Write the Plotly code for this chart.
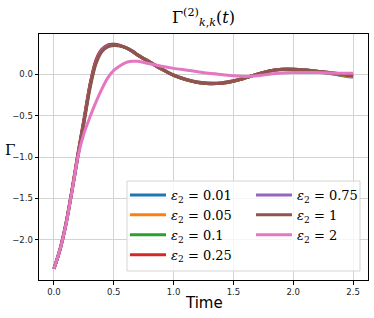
import plotly.graph_objects as go

# ---- data ----
time = [0.0, 0.05, 0.1, 0.15, 0.2, 0.25, 0.3, 0.35, 0.4, 0.45, 0.5, 0.55, 0.6, 0.65, 0.7, 0.8,
        0.9, 1.0, 1.1, 1.2, 1.3, 1.4, 1.5, 1.6, 1.7, 1.8, 1.9, 2.0, 2.1, 2.2, 2.3, 2.4, 2.5]

gamma_001 = [-2.35, -2.12, -1.81, -1.41, -0.98, -0.57, -0.15, 0.15, 0.29, 0.345, 0.355, 0.345, 0.32, 0.28, 0.23, 0.145,
             0.06, -0.015, -0.065, -0.10, -0.115, -0.11, -0.085, -0.045, 0.0, 0.04, 0.06, 0.06, 0.05, 0.03, 0.01, -0.015, -0.035]
gamma_005 = [-2.35, -2.12, -1.81, -1.41, -0.98, -0.57, -0.15, 0.15, 0.29, 0.345, 0.355, 0.345, 0.32, 0.28, 0.23, 0.145,
             0.06, -0.015, -0.065, -0.10, -0.115, -0.11, -0.085, -0.045, 0.0, 0.04, 0.06, 0.06, 0.05, 0.03, 0.015, -0.01, -0.03]
gamma_01 = [-2.35, -2.12, -1.81, -1.41, -0.97, -0.56, -0.14, 0.16, 0.295, 0.35, 0.36, 0.345, 0.32, 0.28, 0.23, 0.145,
            0.06, -0.015, -0.065, -0.10, -0.115, -0.11, -0.085, -0.045, 0.0, 0.04, 0.06, 0.06, 0.05, 0.035, 0.015, -0.005, -0.025]
gamma_025 = [-2.35, -2.12, -1.80, -1.40, -0.96, -0.55, -0.13, 0.165, 0.30, 0.35, 0.36, 0.35, 0.32, 0.28, 0.23, 0.145,
             0.06, -0.015, -0.065, -0.10, -0.11, -0.11, -0.085, -0.045, 0.0, 0.04, 0.055, 0.06, 0.05, 0.035, 0.02, 0.0, -0.02]
gamma_075 = [-2.35, -2.12, -1.81, -1.42, -0.99, -0.58, -0.16, 0.14, 0.285, 0.34, 0.35, 0.345, 0.32, 0.285, 0.235, 0.15,
             0.065, -0.01, -0.06, -0.095, -0.11, -0.105, -0.08, -0.045, 0.0, 0.035, 0.055, 0.055, 0.05, 0.035, 0.02, 0.005, -0.01]
gamma_1 = [-2.35, -2.12, -1.82, -1.42, -1.00, -0.60, -0.18, 0.12, 0.27, 0.33, 0.345, 0.34, 0.32, 0.285, 0.235, 0.15,
           0.065, -0.01, -0.06, -0.095, -0.11, -0.105, -0.08, -0.045, 0.0, 0.035, 0.055, 0.055, 0.05, 0.035, 0.02, 0.005, -0.01]
gamma_2 = [-2.35, -2.12, -1.82, -1.42, -1.00, -0.72, -0.52, -0.34, -0.18, -0.045, 0.045, 0.10, 0.14, 0.155, 0.155, 0.125,
           0.095, 0.07, 0.05, 0.03, 0.01, -0.005, -0.02, -0.028, -0.02, 0.0, 0.015, 0.02, 0.02, 0.02, 0.015, 0.01, 0.01]

labels = ["0.01", "0.05", "0.1", "0.25", "0.75", "1", "2"]
series = [gamma_001, gamma_005, gamma_01, gamma_025, gamma_075, gamma_1, gamma_2]
colors = ["#1f77b4", "#ff7f0e", "#2ca02c", "#d62728", "#9467bd", "#8c564b", "#e377c2"]

x_ticks = [0.0, 0.5, 1.0, 1.5, 2.0, 2.5]
y_ticks = [-2.0, -1.5, -1.0, -0.5, 0.0]

fig = go.Figure()
for i, (lab, ys, c) in enumerate(zip(labels, series, colors)):
    fig.add_trace(go.Scatter(
        x=time, y=ys, mode="lines", line=dict(color=c, width=3, shape="spline", smoothing=0.8),
        name="<i>ε</i><sub>2</sub> = " + lab,
        legend="legend" if i < 4 else "legend2",
        legendgroup="g%d" % i,
    ))

W, H = 374, 318
L, R, T, B = 39, 6, 34, 38
pw, ph = W - L - R, H - T - B

def px_to_paper(x, y):
    return (x - L) / pw, 1 - (y - T) / ph

x0, y0 = px_to_paper(127, 181)
x1, y1 = px_to_paper(360, 271)
fig.add_shape(type="rect", xref="paper", yref="paper", x0=x0, y0=y1, x1=x1, y1=y0,
              fillcolor="rgba(255,255,255,0.8)", line=dict(color="#d5d5d5", width=1), layer="above")

legfont = dict(family="DejaVu Serif", size=13, color="black")
lx1, ly1 = px_to_paper(125, 180)
lx2, ly2 = px_to_paper(251, 180)
common = dict(bgcolor="rgba(0,0,0,0)", borderwidth=0, font=legfont, tracegroupgap=0,
              xanchor="left", yanchor="top", itemwidth=36, traceorder="grouped")
fig.update_layout(
    legend=dict(x=lx1, y=ly1, **common),
    legend2=dict(x=lx2, y=ly2, **common),
)

axis_common = dict(showline=True, linecolor="black", linewidth=1, mirror=True,
                   showgrid=True, gridcolor="#d3d3d3", gridwidth=1, zeroline=False,
                   ticks="outside", ticklen=3.5, tickcolor="black", tickwidth=0.8,
                   automargin=False,
                   tickfont=dict(family="DejaVu Sans", size=8.5, color="#222"))

fig.update_xaxes(range=[-0.125, 2.625], tickvals=x_ticks, ticktext=["%.1f" % v for v in x_ticks],
                 **axis_common)
fig.update_yaxes(range=[-2.485, 0.485], tickvals=y_ticks, ticktext=["−%.1f" % -v if v < 0 else "%.1f" % v for v in y_ticks],
                 **axis_common)

fig.add_annotation(text="Time", xref="paper", yref="paper", x=0.5, y=px_to_paper(0, 303)[1],
                   showarrow=False, font=dict(family="DejaVu Sans", size=15, color="black"),
                   xanchor="center", yanchor="middle")
fig.add_annotation(text="Γ", xref="paper", yref="paper", x=px_to_paper(10, 0)[0], y=px_to_paper(0, 150)[1],
                   showarrow=False, font=dict(family="DejaVu Serif", size=15, color="black"),
                   xanchor="center", yanchor="middle")

fig.update_layout(
    width=W, height=H,
    margin=dict(l=L, r=R, t=T, b=B, autoexpand=False),
    paper_bgcolor="white", plot_bgcolor="white",
    title=dict(text="Γ<sup>(2)</sup><sub><i>k</i>,<i>k</i></sub>(<i>t</i>)", x=0.5, xanchor="center",
               xref="paper", y=1 - 17 / H, yanchor="middle", automargin=False,
               font=dict(family="DejaVu Serif", size=16, color="black")),
)

fig.write_html("out.html", config={"displayModeBar": False},
               post_script="document.body.style.margin='0';document.body.style.overflow='hidden';")
